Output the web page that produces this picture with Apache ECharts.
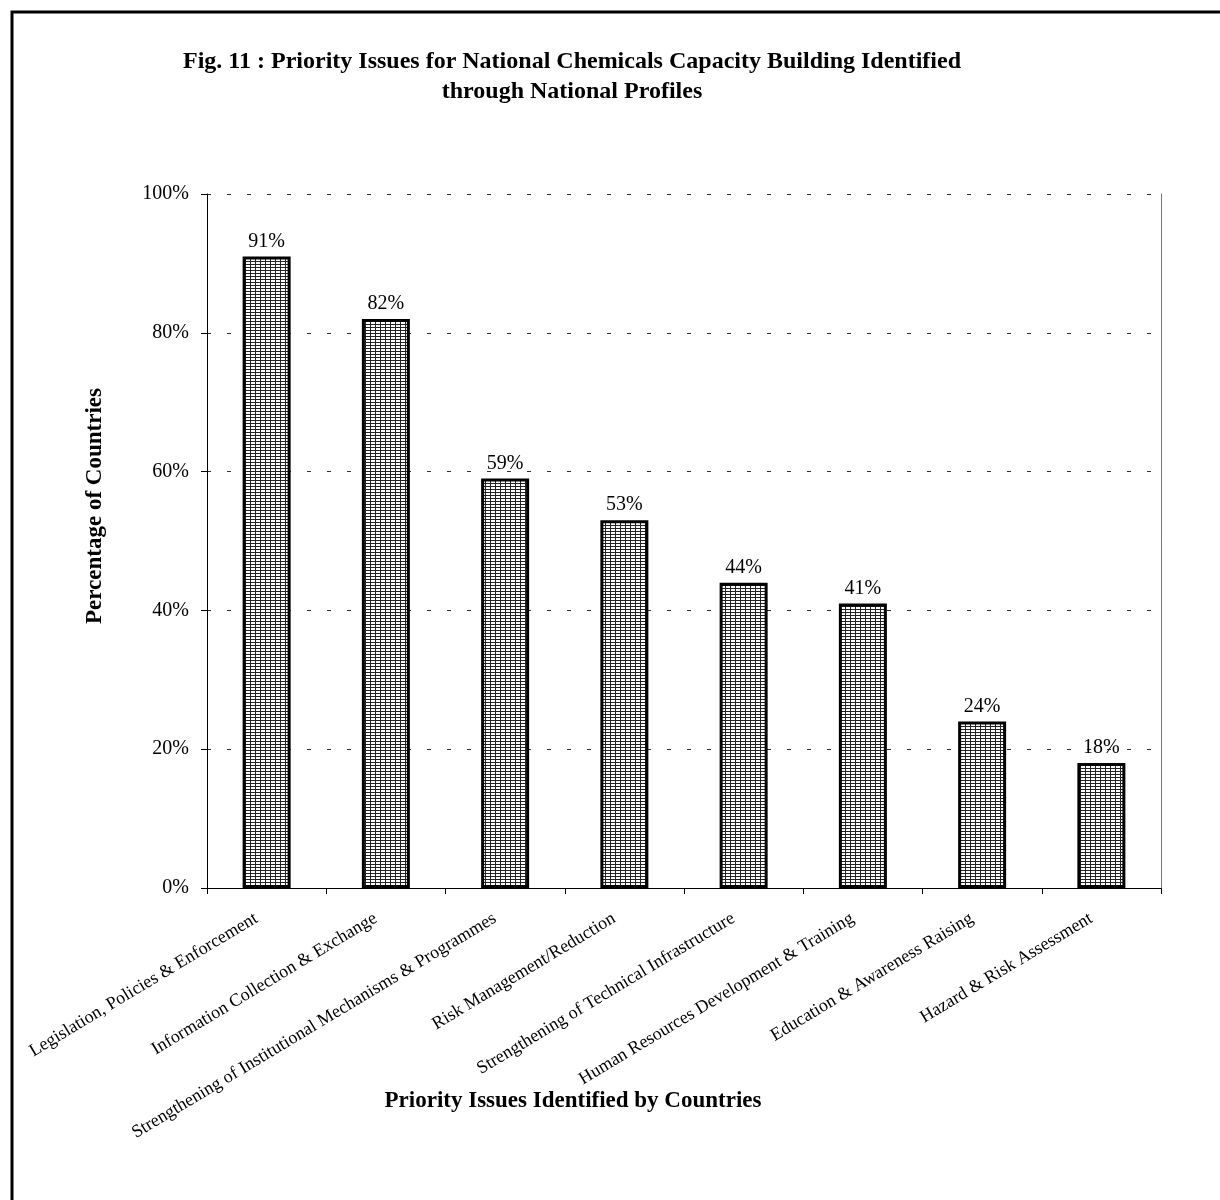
<!DOCTYPE html>
<html><head><meta charset="utf-8">
<script src="https://cdn.jsdelivr.net/npm/echarts@6/dist/echarts.min.js"></script>
<style>html,body{margin:0;padding:0;background:#fff}#c{width:1220px;height:1200px}</style>
</head><body><div id="c"></div>
<script>
var categories = ["Legislation, Policies & Enforcement","Information Collection & Exchange","Strengthening of Institutional Mechanisms & Programmes","Risk Management/Reduction","Strengthening of Technical Infrastructure","Human Resources Development & Training","Education & Awareness Raising","Hazard & Risk Assessment"];
var values = [91, 82, 59, 53, 44, 41, 24, 18];
var yTicks = [0, 20, 40, 60, 80, 100];
var titleLines = ["Fig. 11 : Priority Issues for National Chemicals Capacity Building Identified", "through National Profiles"];
var yName = "Percentage of Countries";
var xName = "Priority Issues Identified by Countries";

var pc = document.createElement('canvas');
pc.width = 5; pc.height = 3;
var g = pc.getContext('2d');
g.fillStyle = '#fff'; g.fillRect(0,0,5,3);
g.fillStyle = '#222';
g.fillRect(0,0,5,1);
g.fillRect(0,0,1,3);

var serif = '"Liberation Serif","Times New Roman",serif';
var chart = echarts.init(document.getElementById('c'), null, {renderer:'canvas'});
chart.setOption({
  backgroundColor:'#fff',
  animation:false,
  grid:{left:207, right:59, top:194, bottom:312},
  xAxis:{type:'category', data:categories,
    axisLine:{lineStyle:{color:'#000', width:1}},
    axisTick:{show:true, alignWithLabel:false, length:6, lineStyle:{color:'#000'}},
    axisLabel:{rotate:31, interval:0, fontFamily:serif, fontSize:18, color:'#000', margin:23, padding:[0,12,0,0]}
  },
  yAxis:[{type:'value', min:0, max:100, interval:20,
    axisLine:{show:true, lineStyle:{color:'#000', width:1}},
    axisTick:{show:true, length:6, lineStyle:{color:'#000'}},
    axisLabel:{formatter:function(v){return v+'%';}, fontFamily:serif, fontSize:20, color:'#000', margin:18},
    splitLine:{show:true, lineStyle:{color:'#333', type:[4,16], width:1}}
  },{type:'value', min:0, max:100, interval:20, position:'right',
    axisLine:{show:true, lineStyle:{color:'#777', width:1}},
    axisTick:{show:false}, axisLabel:{show:false}, splitLine:{show:false}
  }],
  series:[{type:'bar', data:values, barWidth:48,
    itemStyle:{color:{image:pc, repeat:'repeat'}, borderColor:'#000', borderWidth:3},
    label:{show:true, position:'top', distance:5, formatter:function(p){return p.value+'%';}, fontFamily:serif, fontSize:20, color:'#000'}
  }],
  graphic:[
    {type:'rect', shape:{x:12, y:12, width:1400, height:1400}, style:{fill:null, stroke:'#000', lineWidth:3}, silent:true},
    {type:'text', x:572, y:62, style:{text:titleLines[0], font:'bold 24px '+serif, fill:'#000', textAlign:'center', textVerticalAlign:'middle'}},
    {type:'text', x:572, y:92, style:{text:titleLines[1], font:'bold 24px '+serif, fill:'#000', textAlign:'center', textVerticalAlign:'middle'}},
    {type:'text', x:95, y:506, rotation:Math.PI/2, style:{text:yName, font:'bold 23px '+serif, fill:'#000', textAlign:'center', textVerticalAlign:'middle'}},
    {type:'text', x:573, y:1101, style:{text:xName, font:'bold 23px '+serif, fill:'#000', textAlign:'center', textVerticalAlign:'middle'}}
  ]
});
</script></body></html>
